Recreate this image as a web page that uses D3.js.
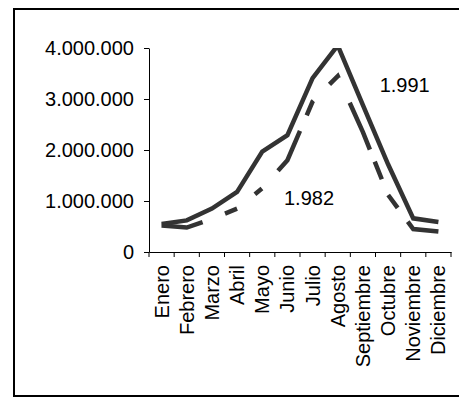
<!DOCTYPE html>
<html>
<head>
<meta charset="utf-8">
<script src="https://cdn.jsdelivr.net/npm/d3@7"></script>
<style>
  body { margin: 0; background: #fff; }
  text { font-family: "Liberation Sans", Arial, sans-serif; }
</style>
</head>
<body>
<svg id="drawing_region"></svg>
<script>
const months = ["Enero", "Febrero", "Marzo", "Abril", "Mayo", "Junio", "Julio",
                "Agosto", "Septiembre", "Octubre", "Noviembre", "Diciembre"];
const values1991 = [550000, 620000, 850000, 1180000, 1970000, 2290000, 3410000,
                    4050000, 2880000, 1720000, 660000, 590000];
const values1982 = [520000, 480000, 650000, 850000, 1250000, 1800000, 2950000,
                    3450000, 2350000, 1120000, 450000, 400000];
const yTicks = [0, 1000000, 2000000, 3000000, 4000000];
const seriesLabels = ["1.991", "1.982"];

const config = {
    width: 459,
    height: 398,
    margin: {top: 48, right: 8, bottom: 146, left: 149}
};

const svg = d3.select("#drawing_region")
    .attr("width", config.width)
    .attr("height", config.height);

// outer chart frame
svg.append("rect")
    .attr("x", 14).attr("y", 9)
    .attr("width", 460).attr("height", 387)
    .attr("fill", "none")
    .attr("stroke", "#000")
    .attr("stroke-width", 2);

const inner_width = 451 - config.margin.left;
const inner_height = 252 - config.margin.top;

const chart = svg.append("g")
    .attr("transform", `translate(${config.margin.left}, ${config.margin.top})`);

const xscale = d3.scaleBand()
    .domain(months)
    .range([0, inner_width]);

const yscale = d3.scaleLinear()
    .domain([0, 4000000])
    .range([inner_height, 0]);

const fmt = d => d3.format(",")(d).replace(/,/g, ".");

// y axis
chart.append("g")
    .call(d3.axisLeft(yscale).tickValues(yTicks).tickFormat(fmt)
        .tickSize(5).tickPadding(10).tickSizeOuter(0));

// x axis, ticks between categories
const xaxis = chart.append("g")
    .attr("transform", `translate(0, ${inner_height})`)
    .call(d3.axisBottom(xscale).tickSize(0).tickSizeOuter(0).tickPadding(0));

xaxis.selectAll(".tick line").remove();
xaxis.selectAll(".sep")
    .data(d3.range(months.length + 1))
    .enter()
    .append("line")
    .attr("x1", i => i * xscale.step())
    .attr("x2", i => i * xscale.step())
    .attr("y1", 0).attr("y2", 5)
    .attr("stroke", "#000");

xaxis.selectAll(".tick text")
    .attr("transform", "rotate(-90)")
    .attr("x", -13)
    .attr("y", 0)
    .attr("dy", "0.35em")
    .style("text-anchor", "end");

chart.selectAll(".domain").attr("stroke", "#000");
chart.selectAll(".tick text")
    .attr("fill", "#000")
    .style("font-size", "20px")
    .style("font-family", '"Liberation Sans", Arial, sans-serif');

// clip lines to plot area
svg.append("clipPath").attr("id", "plot-clip")
    .append("rect")
    .attr("x", -10).attr("y", 0)
    .attr("width", inner_width + 20).attr("height", inner_height + 10);

const line = d3.line()
    .x((d, i) => xscale(months[i]) + xscale.bandwidth() / 2)
    .y(d => yscale(d));

const lines = chart.append("g").attr("clip-path", "url(#plot-clip)");

// the dashes in the original are uneven, so the pattern is spelled out
lines.append("path")
    .datum(values1982)
    .attr("d", line)
    .attr("fill", "none")
    .attr("stroke", "#333")
    .attr("stroke-width", 4.5)
    .attr("stroke-dasharray", "42,24,13,23,9,24,46,17,16,23,14,27,51,13,19,17,16,17,35");

lines.append("path")
    .datum(values1991)
    .attr("d", line)
    .attr("fill", "none")
    .attr("stroke", "#333")
    .attr("stroke-width", 4.5);

// series labels
chart.append("text")
    .attr("x", xscale("Noviembre") + 4)
    .attr("y", yscale(3140000))
    .attr("text-anchor", "middle")
    .style("font-size", "20px")
    .text(seriesLabels[0]);

chart.append("text")
    .attr("x", xscale("Julio") + 9)
    .attr("y", yscale(920000))
    .attr("text-anchor", "middle")
    .style("font-size", "20px")
    .text(seriesLabels[1]);
</script>
</body>
</html>
